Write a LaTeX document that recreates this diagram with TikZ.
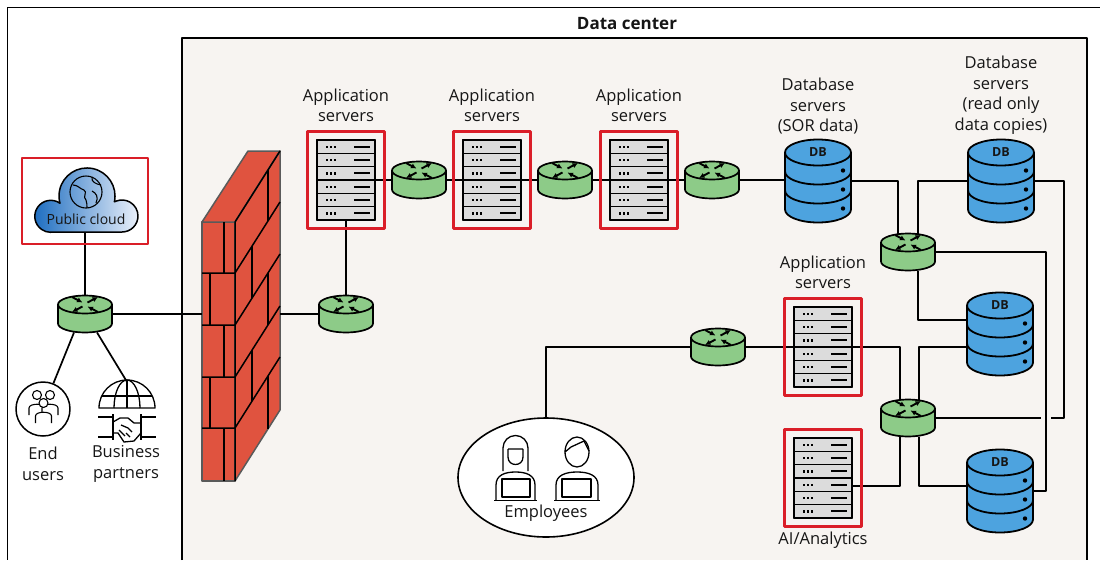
\documentclass[tikz,border=0pt]{standalone}
\usepackage{fontspec}
\setmainfont{Open Sans}
\usetikzlibrary{positioning,calc,arrows.meta,shapes.geometric}

\definecolor{dcfill}{HTML}{F7F4F1}
\definecolor{hired}{HTML}{DA1E28}
\definecolor{rtgreen}{HTML}{8DCB88}
\definecolor{dbblue}{HTML}{4DA3DF}
\definecolor{brick}{HTML}{E0533F}
\definecolor{fwedge}{HTML}{5A5A5A}
\definecolor{rackgray}{HTML}{DCDCDC}
\definecolor{inktext}{HTML}{161616}
\definecolor{cloudblue}{HTML}{1B6CC0}
\definecolor{cloudpale}{HTML}{EAF0FA}

\tikzset{
  wire/.style={line width=1.7pt},
  hibox/.style={draw=hired, line width=2.6pt, minimum width=77pt, minimum height=97pt, inner sep=0pt},
  routerbox/.style={minimum width=54pt, minimum height=37pt, inner sep=0pt, outer sep=0pt},
  rackbox/.style={minimum width=58pt, minimum height=80pt, inner sep=0pt, outer sep=0pt},
  dbbox/.style={minimum width=66pt, minimum height=83pt, inner sep=0pt, outer sep=0pt},
  caption/.style={align=center, font=\fontsize{16.5}{20.5}\selectfont, text=inktext, inner sep=1pt},
  router/.pic={
    \fill[rtgreen] (-27,-9.5) -- (-27,9.5) arc[start angle=180, end angle=0, x radius=27, y radius=9] -- (27,-9.5) -- cycle;
    \draw[line width=1.7pt] (-27,-9.5) -- (-27,9.5) arc[start angle=180, end angle=0, x radius=27, y radius=9] -- (27,-9.5);
    \filldraw[fill=rtgreen, line width=1.7pt] (0,-9.5) ellipse[x radius=27, y radius=9];
    \begin{scope}[line width=1.9pt, -{Latex[length=5.5pt, width=5.5pt]}]
      \draw (-13,-17) -- (-2.5,-11.5);
      \draw (2.5,-11.5) -- (13,-17);
      \draw (-2.5,-7.5) -- (-13,-2);
      \draw (13,-2) -- (2.5,-7.5);
    \end{scope}
  },
  rack/.pic={
    \foreach \i in {0,...,5}{
      \filldraw[fill=rackgray, line width=1.6pt] (-29,-40+13.333*\i) rectangle ++(58,13.333);
      \foreach \d in {-19,-15,-11}
        \fill (\d-1.2,-34.5+13.333*\i) rectangle ++(2.4,2.4);
      \draw[line width=2pt] (8,-33.33+13.333*\i) -- (24,-33.33+13.333*\i);
    }
    \draw[line width=2.2pt] (-29,-40) rectangle (29,40);
  },
  db/.pic={
    \fill[dbblue] (-33,-28.5) -- (-33,28.5) arc[start angle=180, end angle=0, x radius=33, y radius=13] -- (33,-28.5) -- cycle;
    \draw[line width=1.8pt] (-33,-28.5) -- (-33,28.5) arc[start angle=180, end angle=0, x radius=33, y radius=13] -- (33,-28.5);
    \foreach \y in {-9.5,9.5}
      \draw[line width=1.8pt] (-33,\y) arc[start angle=180, end angle=0, x radius=33, y radius=13];
    \filldraw[fill=dbblue, line width=1.8pt] (0,-28.5) ellipse[x radius=33, y radius=13];
    \foreach \y in {-10.5,8.5,27.5}
      \fill (25,\y) circle (2.2);
    \node[font=\bfseries\fontsize{12.5}{14}\selectfont, text=inktext] (-txt) at (0,-28.5) {DB};
  },
  person/.pic={
    \filldraw[fill=white, line width=1.1pt] (-8,20) -- (-8,13) .. controls (-8,8) and (8,8) .. (8,13) -- (8,20);
    \filldraw[fill=white, line width=1.1pt] (0,0) circle (4.5);
  },
}

\begin{document}
\begin{tikzpicture}[x=1pt, y=-1pt, line join=round]
\fill[white] (0,0) rectangle (1100,560);
\useasboundingbox (0,0) rectangle (1100,560);

% outer frame and data center area
\draw[line width=1pt] (1100,7) -- (7,7) -- (7,560);
\fill[dcfill] (182,38) rectangle (1087,560);
\draw[line width=2pt] (182,560) -- (182,38) -- (1087,38) -- (1087,560);
\node[font=\bfseries\fontsize{17}{20}\selectfont, text=inktext] (dc-title) at (627,24) {Data center};

% firewall
\begin{scope}[line width=1.5pt]
  \filldraw[fill=brick, draw=fwedge] (202,222) rectangle (235,481);
  \filldraw[fill=brick, draw=fwedge] (202,222) -- (248,151) -- (280,151) -- (235,222) -- cycle;
  \filldraw[fill=brick, draw=fwedge] (235,222) -- (280,151) -- (280,410) -- (235,481) -- cycle;
  \draw (235,222) -- (280,151) (235,222) -- (235,481);
  \foreach \y in {273,325,377,428}
    \draw (202,\y) -- (235,\y) -- ++(45,-71);
  \foreach \ya/\yb/\xf/\xs/\d in {222/273/224/268/52, 273/325/210/252/26.8,
      325/377/224/268/52, 377/428/210/252/26.8, 428/481/224/268/52}
    \draw (\xf,\ya) -- (\xf,\yb) (\xs,\ya-\d) -- (\xs,\yb-\d);
\end{scope}
\coordinate (fw-in) at (202,314);
\coordinate (fw-out) at (280,314);

% nodes
\node[minimum width=100pt, minimum height=64pt, inner sep=0pt] (cloud) at (85,200) {};
\node[routerbox] (rl) at (85,314) {};
\node[circle, draw, line width=1.5pt, fill=white, minimum size=54pt, inner sep=0pt] (users) at (43,409) {};
\node[minimum width=58pt, minimum height=56pt, inner sep=0pt] (partners) at (127,410) {};
\node[routerbox] (rfw) at (346,314) {};
\node[rackbox] (s1) at (346,180) {};
\node[routerbox] (r1) at (419,180) {};
\node[rackbox] (s2) at (492,180) {};
\node[routerbox] (r2) at (565,180) {};
\node[rackbox] (s3) at (639,180) {};
\node[routerbox] (r3) at (712,180) {};
\node[dbbox] (dbsor) at (818,181) {};
\node[dbbox] (dbro) at (1001,181) {};
\node[routerbox] (rda) at (908,252) {};
\node[dbbox] (dbc) at (1000,334) {};
\node[rackbox] (sm) at (823,347) {};
\node[routerbox] (rem) at (718,347) {};
\node[routerbox] (rdb) at (908,418) {};
\node[dbbox] (dbd) at (1000,491) {};
\node[rackbox] (sai) at (823,478) {};
\node[ellipse, draw, line width=1.6pt, fill=white, minimum width=176pt, minimum height=119pt, inner sep=0pt] (emp) at (546,477.5) {};

% connectors
\begin{scope}[wire]
  \draw (cloud.south) -- (rl.north);
  \draw ($(rl.south)+(-11,0)$) -- (users);
  \draw ($(rl.south)+(12,0)$) -- (partners.north);
  \draw (rl.east) -- (fw-in);
  \draw (fw-out) -- (rfw.west);
  \draw (rfw.north) -- (s1.south);
  \draw (s1) -- (r1) -- (s2) -- (r2) -- (s3) -- (r3);
  \draw (r3.east) -- (r3.east -| dbsor.west);
  \draw (dbsor.east) -| ($(rda.north)+(-10,0)$);
  \draw ($(rda.north)+(10,0)$) |- (dbro.west);
  \draw (dbro.east) -| ($(rdb.east)+(129,0)$) -- (rdb.east);
  \draw[preaction={draw=dcfill, line width=10pt}] (rda.east) -| ($(dbd.east)+(13,0)$) -- (dbd.east);
  \draw ($(rda.south)+(10,0)$) |- ($(dbc.west)+(0,-14)$);
  \draw ($(dbc.west)+(0,13)$) -| ($(rdb.north)+(11,0)$);
  \draw (sm.east) -| ($(rdb.north)+(-8,0)$);
  \draw ($(rdb.south)+(-8,0)$) |- ($(sai.east)+(0,8)$);
  \draw ($(rdb.south)+(11,0)$) |- ($(dbd.west)+(0,-5)$);
  \draw (rem) -- (sm);
  \draw (rem.west) -| (emp.north);
\end{scope}

% public cloud
\shadedraw[line width=1.5pt, left color=cloudblue, right color=cloudpale]
  (51,232) -- (122,232) arc[start angle=90, end angle=-110, radius=16]
  -- (114.4,201.8) arc[start angle=12, end angle=-195, radius=28]
  arc[start angle=-55, end angle=-270, radius=16] -- cycle;
\begin{scope}[line width=1.1pt]
  \draw (86,192) circle (16);
  \draw (73,185) .. controls (78,185) and (80,189) .. (84,190) .. controls (88,192) and (82,197) .. (86,200) .. controls (88,203) and (86,205) .. (87,208);
  \draw (92,177) .. controls (91,182) and (96,184) .. (101,185);
  \draw (92,191) .. controls (96,193) and (99,197) .. (96,203);
\end{scope}
\node[font=\fontsize{14}{16}\selectfont, text=inktext] (cloud-txt) at (86,219) {Public cloud};
\node[hibox, minimum width=126pt, minimum height=86pt] (cloud-hl) at (85,201) {};

% end users and partners
\pic (u1) at (37,395) {person};
\pic (u2) at (50,395) {person};
\pic (u3) at (43.5,403) {person};
\node[caption] (users-cap) at (43,464) {End\\users};
\begin{scope}[line width=1.3pt]
  \draw (99,408) arc[start angle=180, end angle=360, radius=28] -- cycle;
  \draw (127,380) -- (127,408);
  \draw (114,408) arc[start angle=180, end angle=360, x radius=13, y radius=28];
  \draw (101.7,396) -- (152.3,396);
  \draw (98,417) -- (113,417) (98,437) -- (113,437) (113,414) -- (113,440);
  \draw (141,417) -- (156,417) (141,437) -- (156,437) (141,414) -- (141,440);
  \draw (113,422) -- (120,418) -- (128,418) -- (134,423) -- (141,423);
  \draw (113,433) -- (118,433) -- (124,442) -- (134,441) -- (141,433);
  \draw (121,425) -- (128,428) -- (132,432) (119,430) -- (125,436) (126,433) -- (130,437);
\end{scope}
\node[caption] (partners-cap) at (126,464) {Business\\partners};

% routers
\foreach \r in {rl,rfw,r1,r2,r3,rda,rem,rdb}
  \pic (\r-icon) at (\r) {router};

% servers
\foreach \s in {s1,s2,s3,sm,sai}{
  \pic (\s-icon) at (\s) {rack};
  \node[hibox] (\s-hl) at (\s) {};
}
\node[caption, above=7pt of s1-hl] (s1-cap) {Application\\servers};
\node[caption, above=7pt of s2-hl] (s2-cap) {Application\\servers};
\node[caption, above=7pt of s3-hl] (s3-cap) {Application\\servers};
\node[caption, above=7pt of sm-hl] (sm-cap) {Application\\servers};
\node[caption, below=3pt of sai-hl] (sai-cap) {AI/Analytics};

% databases
\foreach \b in {dbsor,dbro,dbc,dbd}
  \pic (\b) at (\b) {db};
\node[caption, above=4pt of dbsor] (dbsor-cap) {Database\\servers\\(SOR data)};
\node[caption, above=4pt of dbro] (dbro-cap) {Database\\servers\\(read only\\data copies)};

% employees
\begin{scope}[line width=1.3pt]
  % left person
  \draw (503,471) -- (503,448) arc[start angle=180, end angle=360, radius=12.5] -- (528,471);
  \draw (508,449) -- (523,449) (508,449) -- (508,457) .. controls (508,467) and (523,467) .. (523,457) -- (523,449);
  \draw (496,500) -- (496,485) .. controls (496,475) and (505,472) .. (515.5,472) .. controls (526,472) and (535,475) .. (535,485) -- (535,500);
  \filldraw[fill=white] (502,479) rectangle (530,497);
  \draw (494,500.5) -- (537,500.5);
  % right person
  \draw (577,452) ellipse[x radius=12, y radius=15];
  \draw (565,452) -- (571,447) -- (584,441) -- (589,451);
  \draw (556,500) -- (556,485) .. controls (556,475) and (566,472) .. (577,472) .. controls (588,472) and (598,475) .. (598,485) -- (598,500);
  \filldraw[fill=white] (562,479) rectangle (591,497);
  \draw (554,500.5) -- (600,500.5);
\end{scope}
\node[caption] (emp-txt) at (546,513) {Employees};
\end{tikzpicture}
\end{document}
